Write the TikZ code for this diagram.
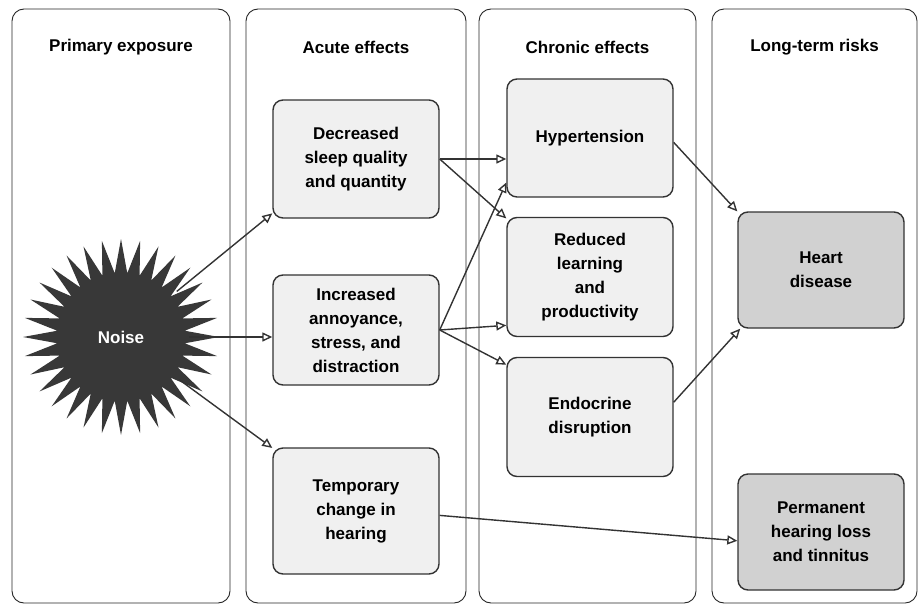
\documentclass[tikz,border=0pt]{standalone}
\usepackage{fontspec}
\setmainfont{Liberation Sans}
\usetikzlibrary{arrows.meta,shapes.geometric}

\begin{document}
\begin{tikzpicture}[x=1pt,y=-1pt,line width=0.8pt,>={Triangle[open,length=10pt,width=9pt]},
  font=\bfseries\fontsize{17}{24}\selectfont,
  panel/.style={draw=black!85,line width=0.9pt,rounded corners=12pt},
  box/.style={draw=black!80,line width=1.4pt,rounded corners=10pt,fill=black!6,
    minimum width=166pt,align=center,inner sep=0pt},
  riskbox/.style={box,fill=black!18},
  arr/.style={->,draw=black!80,line width=1.4pt}]
\useasboundingbox (0,0) rectangle (920,605);
% four columns with their titles
\foreach \xa/\xb/\nm/\txt in {12/230/prim/Primary exposure,246/466/acute/Acute effects,
    479/696/chron/Chronic effects,712/917/long/Long-term risks}{
  \draw[panel] (\xa,9) rectangle (\xb,603);
  \node (\nm) at ({(\xa+\xb)/2},47) {\txt};
}
% the noise star
\node[star,star points=32,star point ratio=1.53,minimum size=196pt,inner sep=0pt,
  fill=black!78,text=white] (noise) at (121,337) {Noise};
% acute effects
\node[box,minimum height=118pt] (sleep) at (356,159) {Decreased\\sleep quality\\and quantity};
\node[box,minimum height=110pt] (annoy) at (356,330) {Increased\\annoyance,\\stress, and\\distraction};
\node[box,minimum height=126pt] (temp) at (356,511) {Temporary\\change in\\hearing};
% chronic effects
\node[box,minimum height=118pt] (hyper) at (590,138) {Hypertension};
\node[box,minimum height=119pt] (reduced) at (590,277) {Reduced\\learning\\and\\productivity};
\node[box,minimum height=119pt] (endo) at (590,417) {Endocrine\\disruption};
% long-term risks
\node[riskbox,minimum height=116pt] (heart) at (821,270) {Heart\\disease};
\node[riskbox,minimum height=116pt] (perm) at (821,532) {Permanent\\hearing loss\\and tinnitus};
% arrows
\draw[arr,shorten <=72pt] (noise.center) -- (sleep.213);
\draw[arr,shorten <=68pt] (noise.center) -- (noise.center -| annoy.west);
\draw[arr,shorten <=72pt] (noise.center) -- (temp.143);
\draw[arr] (sleep.east) -- (sleep.east -| hyper.west);
\draw[arr] (sleep.east) -- (reduced.145);
\draw[arr] (annoy.east) -- (hyper.208);
\draw[arr] (annoy.east) -- (reduced.210);
\draw[arr] (annoy.east) -- (endo.148);
\draw[arr] (hyper.357) -- (heart.145);
\draw[arr] (endo.10) -- (heart.216);
\draw[arr] (temp.357) -- (perm.186);
\end{tikzpicture}
\end{document}
